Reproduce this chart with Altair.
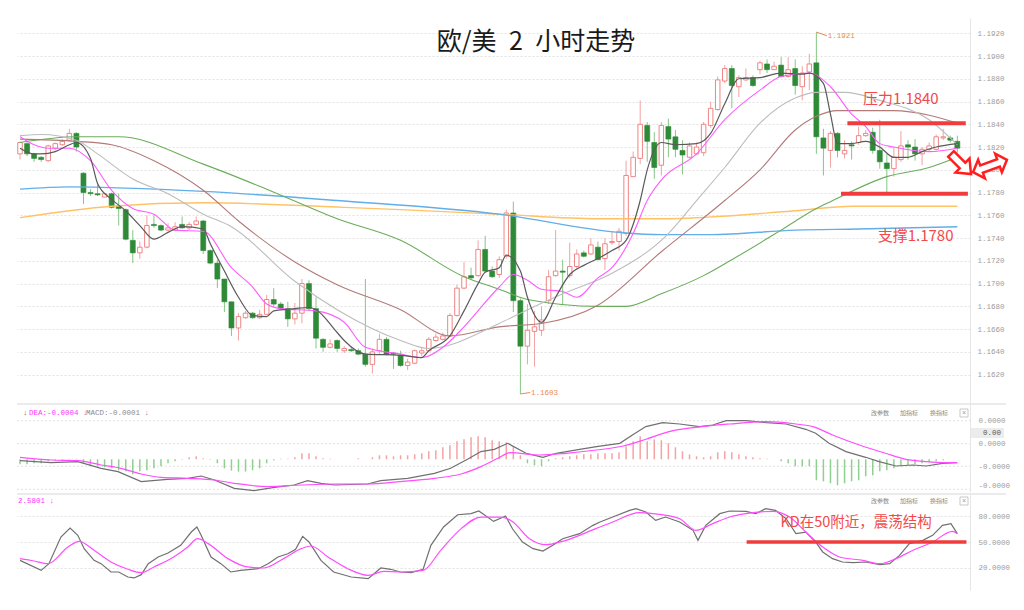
import altair as alt
import pandas as pd

# ---------------- data ----------------
title_text = "欧/美\u20022\u2002小时走势"

candle_open = [1.1814,1.1823,1.1814,1.1811,1.1808,1.1819,1.1822,1.1826,1.1832,1.1797,
 1.1780,1.1779,1.1776,1.1779,1.1768,1.1765,1.1738,1.1727,1.1732,1.1752,
 1.1751,1.1747,1.1747,1.1752,1.1749,1.1752,1.1755,1.1729,1.1718,1.1704,
 1.1684,1.1661,1.1670,1.1674,1.1670,1.1673,1.1686,1.1682,1.1678,1.1669,
 1.1674,1.1700,1.1678,1.1651,1.1644,1.1650,1.1641,1.1642,1.1641,1.1638,
 1.1629,1.1641,1.1651,1.1639,1.1637,1.1628,1.1630,1.1639,1.1641,1.1650,
 1.1651,1.1654,1.1672,1.1696,1.1707,1.1707,1.1730,1.1711,1.1708,1.1724,
 1.1762,1.1685,1.1645,1.1658,1.1659,1.1685,1.1707,1.1711,1.1707,1.1715,
 1.1727,1.1726,1.1732,1.1722,1.1736,1.1737,1.1744,1.1794,1.1810,1.1839,
 1.1824,1.1804,1.1838,1.1829,1.1817,1.1811,1.1814,1.1815,1.1839,1.1853,
 1.1878,1.1889,1.1873,1.1879,1.1881,1.1888,1.1893,1.1888,1.1892,1.1882,
 1.1889,1.1873,1.1886,1.1894,1.1828,1.1817,1.1832,1.1814,1.1822,1.1824,
 1.1830,1.1833,1.1817,1.1806,1.1801,1.1809,1.1822,1.1820,1.1814,1.1818,
 1.1818,1.1828,1.1828,1.1825]
candle_high = [1.1825,1.1825,1.1815,1.1812,1.1822,1.1824,1.1827,1.1836,1.1833,1.1798,
 1.1783,1.1787,1.1780,1.1780,1.1779,1.1766,1.1747,1.1737,1.1760,1.1760,
 1.1752,1.1753,1.1754,1.1759,1.1754,1.1759,1.1756,1.1730,1.1721,1.1704,
 1.1684,1.1674,1.1676,1.1675,1.1677,1.1690,1.1696,1.1684,1.1684,1.1683,
 1.1704,1.1703,1.1688,1.1652,1.1651,1.1651,1.1645,1.1644,1.1643,1.1704,
 1.1643,1.1656,1.1653,1.1640,1.1641,1.1634,1.1642,1.1644,1.1653,1.1656,
 1.1657,1.1674,1.1699,1.1719,1.1714,1.1738,1.1742,1.1715,1.1724,1.1765,
 1.1772,1.1687,1.1682,1.1676,1.1680,1.1712,1.1747,1.1721,1.1736,1.1730,
 1.1729,1.1740,1.1737,1.1740,1.1746,1.1749,1.1808,1.1816,1.1861,1.1842,
 1.1833,1.1842,1.1845,1.1835,1.1826,1.1824,1.1824,1.1842,1.1860,1.1882,
 1.1892,1.1892,1.1883,1.1889,1.1883,1.1896,1.1897,1.1895,1.1899,1.1899,
 1.1897,1.1891,1.1902,1.1921,1.1836,1.1834,1.1833,1.1826,1.1825,1.1838,
 1.1835,1.1837,1.1844,1.1814,1.1820,1.1834,1.1826,1.1827,1.1820,1.1824,
 1.1831,1.1836,1.1830,1.1830]
candle_low = [1.1809,1.1812,1.1807,1.1807,1.1807,1.1817,1.1821,1.1825,1.1816,1.1770,
 1.1777,1.1777,1.1776,1.1766,1.1751,1.1738,1.1718,1.1722,1.1731,1.1749,
 1.1746,1.1746,1.1746,1.1748,1.1747,1.1751,1.1726,1.1717,1.1696,1.1675,
 1.1654,1.1650,1.1669,1.1669,1.1669,1.1673,1.1680,1.1677,1.1662,1.1664,
 1.1665,1.1676,1.1643,1.1640,1.1643,1.1640,1.1639,1.1640,1.1637,1.1627,
 1.1621,1.1638,1.1637,1.1625,1.1627,1.1624,1.1629,1.1636,1.1640,1.1649,
 1.1650,1.1653,1.1671,1.1695,1.1704,1.1706,1.1710,1.1705,1.1705,1.1722,
 1.1675,1.1603,1.1629,1.1627,1.1654,1.1682,1.1706,1.1681,1.1705,1.1713,
 1.1723,1.1725,1.1721,1.1712,1.1734,1.1729,1.1742,1.1794,1.1805,1.1807,
 1.1792,1.1795,1.1811,1.1811,1.1796,1.1810,1.1813,1.1812,1.1837,1.1852,
 1.1876,1.1854,1.1864,1.1878,1.1873,1.1884,1.1885,1.1888,1.1881,1.1881,
 1.1866,1.1861,1.1870,1.1814,1.1795,1.1802,1.1811,1.1810,1.1809,1.1822,
 1.1829,1.1814,1.1801,1.1779,1.1794,1.1807,1.1809,1.1808,1.1804,1.1816,
 1.1817,1.1826,1.1824,1.1815]
candle_close = [1.1824,1.1814,1.1810,1.1809,1.1821,1.1823,1.1825,1.1832,1.1820,1.1780,
 1.1779,1.1778,1.1779,1.1767,1.1766,1.1739,1.1727,1.1732,1.1751,1.1751,
 1.1747,1.1749,1.1750,1.1749,1.1752,1.1755,1.1729,1.1718,1.1704,1.1684,
 1.1661,1.1671,1.1674,1.1670,1.1673,1.1686,1.1682,1.1678,1.1669,1.1674,
 1.1700,1.1678,1.1652,1.1644,1.1647,1.1643,1.1643,1.1641,1.1638,1.1629,
 1.1640,1.1651,1.1638,1.1638,1.1628,1.1631,1.1641,1.1641,1.1651,1.1653,
 1.1654,1.1672,1.1696,1.1706,1.1705,1.1730,1.1711,1.1706,1.1721,1.1762,
 1.1685,1.1645,1.1659,1.1662,1.1668,1.1706,1.1711,1.1710,1.1715,1.1726,
 1.1724,1.1734,1.1721,1.1735,1.1737,1.1746,1.1795,1.1811,1.1840,1.1825,
 1.1802,1.1839,1.1827,1.1818,1.1813,1.1821,1.1820,1.1840,1.1854,1.1879,
 1.1889,1.1874,1.1881,1.1881,1.1874,1.1894,1.1888,1.1891,1.1882,1.1888,
 1.1874,1.1885,1.1893,1.1829,1.1819,1.1832,1.1817,1.1817,1.1821,1.1830,
 1.1832,1.1817,1.1807,1.1801,1.1811,1.1821,1.1820,1.1814,1.1818,1.1821,
 1.1829,1.1829,1.1826,1.1819]

# moving averages (sampled at candle indices)
ma5_idx = [0,2,3,5,7,8,10,11,13,15,17,19,21,23,26,27,29,31,33,35,36,39,41,42,45,46,49,54,57,58,
           61,63,65,66,68,69,71,72,74,76,78,80,82,84,86,88,89,91,93,96,98,100,102,105,108,111,112,
           114,115,116,118,120,122,124,126,128,130,133]
ma5_val = [1.1819,1.1814,1.1814,1.1816,1.1822,1.1824,1.1810,1.1788,1.1774,1.1764,1.1751,1.1739,
           1.1745,1.1750,1.1748,1.1735,1.1711,1.1688,1.1672,1.1671,1.1676,1.1678,1.1679,1.1677,
           1.1657,1.1650,1.1638,1.1637,1.1635,1.1641,1.1654,1.1676,1.1700,1.1710,1.1714,1.1725,
           1.1711,1.1688,1.1666,1.1688,1.1708,1.1716,1.1722,1.1729,1.1738,1.1773,1.1800,1.1824,
           1.1822,1.1823,1.1832,1.1858,1.1880,1.1881,1.1885,1.1884,1.1885,1.1876,1.1849,1.1823,
           1.1823,1.1825,1.1820,1.1811,1.1811,1.1816,1.1820,1.1823]
ma10_idx = [0,2,4,7,10,13,16,19,22,26,30,33,35,37,42,46,49,54,57,60,63,68,70,72,74,77,79,82,84,87,
            89,91,96,100,105,108,112,115,118,120,122,124,129,133]
ma10_val = [1.1829,1.1822,1.1819,1.1819,1.1808,1.1782,1.1766,1.1761,1.1747,1.1746,1.1714,1.1697,
            1.1682,1.1678,1.1676,1.1666,1.1644,1.1638,1.1635,1.1644,1.1662,1.1697,1.1708,1.1703,
            1.1695,1.1693,1.1688,1.1705,1.1714,1.1744,1.1773,1.1791,1.1814,1.1844,1.1870,1.1882,
            1.1885,1.1873,1.1849,1.1838,1.1823,1.1820,1.1816,1.1819]
ma20_idx = [0,3,8,11,16,21,26,30,39,45,54,58,68,71,77,84,92,96,100,105,110,113,117,122,129,133]
ma20_val = [1.1830,1.1831,1.1826,1.1814,1.1792,1.1779,1.1761,1.1750,1.1702,1.1677,1.1650,1.1643,
            1.1665,1.1674,1.1691,1.1709,1.1744,1.1773,1.1802,1.1841,1.1863,1.1868,1.1868,1.1861,
            1.1844,1.1822]
ma30_idx = [0,8,13,19,26,31,39,45,54,61,68,74,82,91,100,105,110,113,116,124,129,133]
ma30_val = [1.1827,1.1825,1.1822,1.1808,1.1782,1.1755,1.1719,1.1699,1.1677,1.1654,1.1662,1.1665,
            1.1681,1.1728,1.1773,1.1800,1.1835,1.1847,1.1852,1.1852,1.1848,1.1841]
ma60_idx = [0,8,14,26,35,45,54,63,68,72,82,86,91,97,101,108,113,115,123,129,133]
ma60_val = [1.1824,1.1829,1.1829,1.1805,1.1783,1.1757,1.1738,1.1706,1.1695,1.1686,1.1680,1.1680,
            1.1691,1.1707,1.1721,1.1747,1.1766,1.1772,1.1794,1.1802,1.1811]
ma120_idx = [0,7,26,45,68,85,91,98,110,119,133]
ma120_val = [1.1783,1.1785,1.1781,1.1773,1.1761,1.1745,1.1743,1.1743,1.1747,1.1748,1.1750]
ma250_idx = [0,13,26,46,54,68,82,91,110,118,133]
ma250_val = [1.1758,1.1768,1.1771,1.1767,1.1765,1.1761,1.1757,1.1757,1.1764,1.1768,1.1768]

price_ticks = [1.1620,1.1640,1.1660,1.1680,1.1700,1.1720,1.1740,1.1760,
               1.1780,1.1800,1.1820,1.1840,1.1860,1.1880,1.1900,1.1920]
resist_level = 1.1841
support_level = 1.1779
notes = ["压力1.1840", "支撑1.1780"]
extreme_labels = ["1.1921", "1.1603"]
extreme_idx = [113, 71]
extreme_price = [1.1921, 1.1603]

# MACD panel (values in units of 1e-4)
macd_hist = [-0.5,-0.5,-0.4,-0.4,-0.2,-0.1,-0.1,0.05,0.05,-0.4,
 -0.6,-0.7,-0.8,-0.9,-1.1,-1.2,-1.5,-1.2,-1.1,-0.9,
 -0.7,-0.4,-0.2,-0.05,0.2,0.3,0.1,-0.05,-0.4,-0.9,
 -1.13,-1.23,-1.23,-1.1,-0.9,-0.4,-0.1,0.05,0.05,0.2,
 0.6,0.6,0.3,0.1,0.05,0,0,0,0.1,0,
 0.2,0.4,0.4,0.3,0.4,0.4,0.5,0.6,0.8,0.9,
 1.2,1.4,1.8,2.0,2.2,2.3,2.2,1.9,1.8,1.7,
 1.3,0.4,-0.4,-0.6,-0.7,-0.2,0.1,0.2,0.3,0.4,
 0.5,0.5,0.6,0.6,0.6,0.7,1.3,1.8,2.3,1.8,
 2.0,1.9,1.6,1.2,0.8,0.5,0.3,0.2,0.3,0.7,
 0.8,0.7,0.5,0.3,0.2,0.1,0.05,0,-0.2,-0.4,
 -0.7,-0.7,-0.7,-2.1,-2.2,-2.4,-2.6,-2.4,-2.2,-2.1,
 -1.7,-1.6,-1.2,-1.1,-0.9,-0.7,-0.6,-0.5,-0.4,-0.3,
 -0.2,-0.1,0,0]
dif_idx = [0,4.4,8.2,11.5,13.9,17.2,20.9,23.8,25.7,27.6,30.4,33.2,36.1,38.9,40.8,42.7,44.6,49.3,
           51.2,55,58.8,61.1,63.5,65.4,67.3,69.2,71.8,74.2,76.1,79.4,81.8,85.1,86.9,88.8,91.2,93.6,
           96.4,98.3,100.2,103,105.9,108.7,111.5,112.9,114.8,117.2,120,121.9,124.3,126.7,128.6,130.9,133]
dif_val = [-0.13,-0.33,-0.23,-0.9,-1.23,-2.23,-2.0,-1.9,-1.67,-2.07,-2.9,-3.13,-2.8,-2.57,-2.13,
           -2.4,-2.57,-2.47,-2.13,-1.9,-1.4,-0.9,0,0.77,1.0,1.6,0.6,0.2,0.6,1.0,1.27,1.6,2.43,3.27,
           3.67,3.53,3.27,3.43,3.87,3.87,3.67,3.53,3.0,2.6,1.6,0.77,0.2,-0.23,-0.67,-0.57,-0.67,-0.4,-0.33]
dea_idx = [0,4.4,8.2,11.5,14.3,17.2,20,23.8,27.6,30.4,35.1,39.9,44.6,49.3,54,58.8,62.6,65.4,67.8,
           69.6,73.7,77.5,81.8,85.6,88.8,92.1,95.9,100.7,105.9,110.1,112.5,115.3,119.1,122.8,125.7,
           128.6,131.4,133]
dea_val = [0.2,-0.07,-0.13,-0.57,-0.9,-1.47,-1.8,-1.9,-2.07,-2.4,-2.73,-2.57,-2.47,-2.47,-2.23,-1.9,
           -1.47,-0.73,0.1,0.67,0.43,0.6,0.93,1.33,2.0,2.77,3.2,3.53,3.77,3.53,3.27,2.43,1.43,0.6,0,
           -0.23,-0.33,-0.33]
macd_grid = [3.86, 1.56, -0.70, -3.0]
macd_ticks = [3.86, 1.56, -0.70, -2.6]

# KD panel
k_idx = [0,3,4.1,5.8,7.1,8.2,9.1,10.5,11.5,12.9,14,15.3,16.2,17.2,18.2,19.6,21,22.8,24.3,25.1,
         25.7,27.1,28.5,29.9,31.3,33.8,35.2,36.6,38,39.1,40.1,41,42.7,44.5,47,49.4,51.2,52.6,54,55.5,
         57.2,58.3,60.1,62.1,64,65.1,67.2,68.9,69.9,71.3,72.8,74.2,75.6,77,79.4,81.3,82.3,84.1,86.5,87.4,
         88.8,90.2,91.6,93.6,95.5,96.2,97.3,99.3,100.7,103,104.4,105.8,107.2,108.7,110.1,111.5,112.9,
         113.9,115.3,116.7,118.2,120,122,123.4,124.8,126.2,128.1,129.5,130.9,132.1,133]
k_val = [28.8,17.3,25,55.8,66.2,57.7,42.3,28.8,25,15.4,15.4,9.6,8.5,12.3,25,32.7,37.3,46.2,61.5,67.3,
         57.7,32.7,25,15.4,17.3,19.2,25,32.7,36.5,41.5,56.5,50,28.8,15.4,9.6,7.7,20,18.5,15.4,14.6,
         18.5,46.2,67.3,81.5,82.7,85.8,73.8,80,65,50,42.3,39.6,46.2,53.8,59.6,69.2,73.1,78.8,86.5,88.5,
         84.6,75,78.8,73.1,63.5,51.9,69.2,82.7,85.8,85.4,82.7,88.5,86.5,76.9,59.6,61.5,50,38.5,30.8,26.9,
         26.2,26.9,23.8,25,34.6,48.1,51.9,57.7,69.2,71.2,59.6]
d_idx = [0,2,4,6.8,8.4,10.5,12.9,15.3,17.2,19,21.8,23.8,25.2,26.7,29.5,32.3,34.6,37.4,39.9,41.3,
         43.7,46.5,49.4,51.6,54,57.2,59.7,62.6,65.4,68.2,69.9,72.3,74.6,77,81.7,84.1,87.9,89.8,93.6,95.9,
         98.3,100.7,103,106.8,109.2,111.5,113.9,116.3,119.6,122,124.3,126.7,129.5,132.3,133]
d_val = [30.8,28.1,25,44.2,50.8,40.4,26.9,18.5,14.6,21.2,32.7,44.2,53.8,48.1,30.8,21.2,20,30.8,42.3,45.4,
         32.7,19.2,11.5,16.2,15.4,17.3,40.4,65.4,78.8,78.8,73.5,53.8,46.9,50.8,65.4,73.1,83.8,82.7,76.9,63.5,
         71.2,78.8,82.7,85.4,78.8,61.5,44.2,32.7,28.8,25,30.8,40.4,50,62.3,59.6]
kd_ticks = [80, 50, 20]
kd_level = 50
kd_note = "KD在50附近，震荡结构"

# ---------------- chart ----------------
W = 953
H_MAIN, H_MACD, H_KD = 382, 92, 96
MONO = "Liberation Mono"
CJK = "Noto Sans CJK SC"
RED = "#f03c3c"

X_SCALE = alt.Scale(domain=[-0.43, 134.8], nice=False, zero=False, padding=0)
P_SCALE = alt.Scale(domain=[1.15977, 1.19334], nice=False, zero=False, padding=0)
M_SCALE = alt.Scale(domain=[-3.27, 5.93], nice=False, zero=False, padding=0)
K_SCALE = alt.Scale(domain=[-5.4, 105.4], nice=False, zero=False, padding=0)

AX = dict(labelFont=MONO, labelFontSize=7.5, labelColor="#9c9c9c", ticks=False,
          domainColor="#e6e6e6", title=None)
main_axis = alt.Axis(orient="right", values=price_ticks, format=".4f", labelPadding=7,
                     grid=True, gridColor="#e2e2e2", gridDash=[2, 2], **AX)
macd_axis = alt.Axis(orient="right", values=macd_ticks,
                     labelExpr="datum.value > 0 ? '0.0000' : '-0.0000'",
                     labelPadding=8, grid=False, **AX)
kd_axis = alt.Axis(orient="right", values=kd_ticks, format=".4f", labelPadding=8, grid=True,
                   gridColor="#e2e2e2", gridDash=[2, 2], **AX)


def XQ(field="idx"):
    return alt.X(f"{field}:Q", scale=X_SCALE, axis=None)


def PY(field):
    return alt.Y(f"{field}:Q", scale=P_SCALE, axis=main_axis)


def MY(field):
    return alt.Y(f"{field}:Q", scale=M_SCALE, axis=macd_axis)


def KY(field):
    return alt.Y(f"{field}:Q", scale=K_SCALE, axis=kd_axis)


one = pd.DataFrame({"a": [0]})

cdf = pd.DataFrame({"idx": list(range(len(candle_open))), "open": candle_open,
                    "high": candle_high, "low": candle_low, "close": candle_close})
is_up = cdf["close"] >= cdf["open"]
up_df = cdf[is_up]
dn_df = cdf[~is_up]

layers = []
layers.append(alt.Chart(up_df).mark_rule(color="#f3a2a2", strokeWidth=1).encode(
    x=XQ(), y=PY("low"), y2="high:Q"))
layers.append(alt.Chart(dn_df).mark_rule(color="#86c586", strokeWidth=1).encode(
    x=XQ(), y=PY("low"), y2="high:Q"))
layers.append(alt.Chart(up_df).mark_bar(size=4.5, fill="#ffffff", stroke="#ef8585", strokeWidth=1).encode(
    x=XQ(), y=PY("open"), y2="close:Q"))
layers.append(alt.Chart(dn_df).mark_bar(size=5, color="#2e8a36", stroke="#2e8a36", strokeWidth=0.6).encode(
    x=XQ(), y=PY("open"), y2="close:Q"))

ma_specs = [(ma250_idx, ma250_val, "#ffc266", 1.4), (ma120_idx, ma120_val, "#62aee8", 1.4),
            (ma60_idx, ma60_val, "#6aad5a", 1.1), (ma30_idx, ma30_val, "#b27a78", 1.1),
            (ma20_idx, ma20_val, "#bdbdbd", 1.1), (ma10_idx, ma10_val, "#ff5cff", 1.1),
            (ma5_idx, ma5_val, "#5a5a5a", 1.2)]
for mi, mv, col, sw in ma_specs:
    layers.append(alt.Chart(pd.DataFrame({"idx": mi, "v": mv})).mark_line(
        color=col, strokeWidth=sw, interpolate="monotone").encode(x=XQ(), y=PY("v")))

# support / resistance
lv = pd.DataFrame({"x1": [117.4, 116.5], "x2": [134.2, 134.5], "p": [resist_level, support_level]})
layers.append(alt.Chart(lv).mark_rule(color=RED, strokeWidth=4).encode(
    x=XQ("x1"), x2="x2:Q", y=PY("p")))
nt = pd.DataFrame({"idx": [119.6, 121.7], "p": [1.18622, 1.17422], "t": notes})
layers.append(alt.Chart(nt).mark_text(align="left", baseline="middle", font=CJK, fontSize=15,
                                      color="#f24a4a").encode(x=XQ(), y=PY("p"), text="t:N"))

# extremes
ex_lines = pd.DataFrame({"x1": extreme_idx, "x2": [114.5, 72.4], "p1": extreme_price,
                         "p2": [1.19178, 1.16043]})
layers.append(alt.Chart(ex_lines).mark_rule(color="#ea8a4c", strokeWidth=1).encode(
    x=XQ("x1"), x2="x2:Q", y=PY("p1"), y2="p2:Q"))
ex_txt = pd.DataFrame({"idx": [114.6, 72.5], "p": [1.19172, 1.16040], "t": extreme_labels})
layers.append(alt.Chart(ex_txt).mark_text(align="left", baseline="middle", font=MONO, fontSize=7.5,
                                          color="#ea8a4c").encode(x=XQ(), y=PY("p"), text="t:N"))

# title
layers.append(alt.Chart(pd.DataFrame({"t": [title_text]})).mark_text(
    font=CJK, fontSize=25, color="#1a1a1a", baseline="middle").encode(
    x=alt.value(519), y=alt.value(24), text="t:N"))

# hollow red arrows
ARROW = "M-1,-0.28L0.15,-0.28L0.15,-0.7L1,0L0.15,0.7L0.15,0.28L-1,0.28Z"
DARROW = ("M-1,0L-0.5,-0.55L-0.5,-0.22L0.5,-0.22L0.5,-0.55L1,0L0.5,0.55L0.5,0.22"
          "L-0.5,0.22L-0.5,0.55Z")
layers.append(alt.Chart(one).mark_point(shape=ARROW, size=800, angle=45, filled=True, fill="#ffffff",
                                        stroke="#ff1f1f", strokeWidth=2.5, opacity=1).encode(
    x=alt.value(944), y=alt.value(146)))
layers.append(alt.Chart(one).mark_point(shape=DARROW, size=1300, angle=340, filled=True, fill="#ffffff",
                                        stroke="#ff1f1f", strokeWidth=2.5, opacity=1).encode(
    x=alt.value(973), y=alt.value(148)))

main = alt.layer(*layers).properties(width=W, height=H_MAIN)

# ---------------- MACD ----------------
ml = []
ml.append(alt.Chart(pd.DataFrame({"g": macd_grid})).mark_rule(color="#e2e2e2", strokeDash=[2, 2]).encode(
    y=MY("g"), x=alt.value(0), x2=alt.value(W)))
ml.append(alt.Chart(one).mark_rule(color="#e4e4e4", strokeWidth=1.5).encode(
    x=alt.value(0), x2=alt.value(W + 36), y=alt.value(4)))
hdf = pd.DataFrame({"idx": list(range(len(macd_hist))), "h": macd_hist, "z": [0.0] * len(macd_hist)})
ml.append(alt.Chart(hdf).transform_filter("datum.h > 0").mark_bar(size=1.5, color="#f4a3a3").encode(
    x=XQ(), y=MY("h"), y2="z:Q"))
ml.append(alt.Chart(hdf).transform_filter("datum.h < 0").mark_bar(size=1.5, color="#8fcf8f").encode(
    x=XQ(), y=MY("h"), y2="z:Q"))
ml.append(alt.Chart(pd.DataFrame({"idx": dif_idx, "v": dif_val})).mark_line(
    color="#707070", strokeWidth=1.2).encode(x=XQ(), y=MY("v")))
ml.append(alt.Chart(pd.DataFrame({"idx": dea_idx, "v": dea_val})).mark_line(
    color="#ff4dff", strokeWidth=1.2, interpolate="monotone").encode(x=XQ(), y=MY("v")))


def txt(x, y, s, color="#888888", size=7.5, font=MONO, align="left"):
    return alt.Chart(one).mark_text(align=align, baseline="middle", font=font, fontSize=size,
                                    color=color).encode(x=alt.value(x), y=alt.value(y), text=alt.value(s))


def right_tools(y):
    out = [txt(854, y, "改参数", font=CJK, size=6), txt(883, y, "加指标", font=CJK, size=6),
           txt(913, y, "换指标", font=CJK, size=6)]
    out.append(alt.Chart(one).mark_rect(fill="#ffffff", stroke="#bbbbbb", strokeWidth=0.8).encode(
        x=alt.value(943), x2=alt.value(951), y=alt.value(y - 4), y2=alt.value(y + 4)))
    out.append(txt(947, y, "×", color="#999999", size=7, align="center"))
    return out


ml.append(txt(6, 13, "↓", color="#666666"))
ml.append(txt(12, 13, "DEA:-0.0004 ↓", color="#ff33ff"))
ml.append(txt(69, 13, "MACD:-0.0001 ↓", color="#8a8a8a"))
ml += right_tools(13)
ml.append(alt.Chart(one).mark_rect(fill="#ececec").encode(
    x=alt.value(W + 1), x2=alt.value(W + 34), y=alt.value(28), y2=alt.value(38)))
ml.append(txt(W + 31, 33, "0.00", color="#555555", align="right"))
macd = alt.layer(*ml).properties(width=W, height=H_MACD)

# ---------------- KD ----------------
kl = []
kl.append(alt.Chart(one).mark_rule(color="#e4e4e4", strokeWidth=1.5).encode(
    x=alt.value(0), x2=alt.value(W + 36), y=alt.value(0)))
kl.append(alt.Chart(pd.DataFrame({"idx": k_idx, "v": k_val})).mark_line(
    color="#707070", strokeWidth=1.2).encode(x=XQ(), y=KY("v")))
kl.append(alt.Chart(pd.DataFrame({"idx": d_idx, "v": d_val})).mark_line(
    color="#ff4dff", strokeWidth=1.2, interpolate="monotone").encode(x=XQ(), y=KY("v")))
kl.append(alt.Chart(pd.DataFrame({"x1": [103.1], "x2": [134.3], "v": [kd_level]})).mark_rule(
    color=RED, strokeWidth=3.5).encode(x=XQ("x1"), x2="x2:Q", y=KY("v")))
kl.append(alt.Chart(pd.DataFrame({"idx": [107.9], "v": [72.5], "t": [kd_note]})).mark_text(
    align="left", baseline="middle", font=CJK, fontSize=14.5, color="#f24a4a").encode(
    x=XQ(), y=KY("v"), text="t:N"))
kl.append(txt(1, 7, "2.5801 ↓", color="#ff33ff"))
kl += right_tools(7)
kd = alt.layer(*kl).properties(width=W, height=H_KD)

chart = alt.vconcat(main, macd, kd, spacing=0).properties(
    padding={"left": 8, "top": 10, "right": 2, "bottom": 5}
).configure_view(strokeWidth=0)

chart.save("out.html", embed_options={"renderer": "svg", "actions": False})
